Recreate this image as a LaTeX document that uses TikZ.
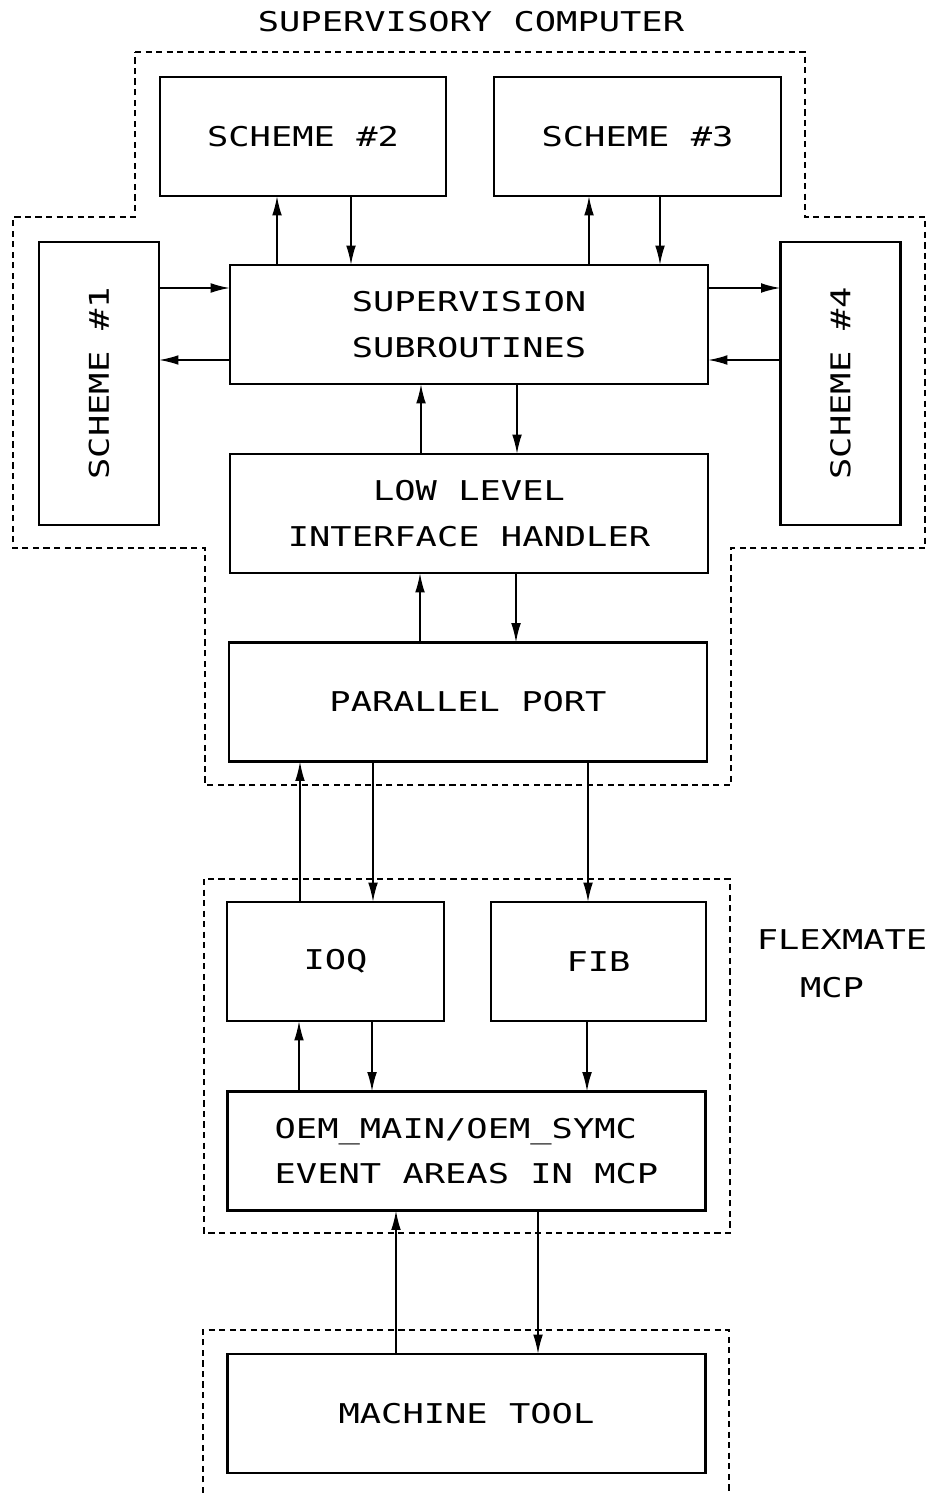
\documentclass[tikz,border=0pt]{standalone}
\usepackage{fontspec}
\newfontfamily\plotfont{DejaVu Sans Mono}[FakeStretch=1.3]
\usetikzlibrary{arrows.meta}
\tikzset{blk/.style={draw, line width=1.2pt, outer sep=0pt, minimum width=9.56cm, minimum height=2.38cm, align=center}}
\tikzset{side/.style={blk, minimum width=2.4cm, minimum height=5.66cm}}
\tikzset{arr/.style={line width=1pt, -{Latex[length=11pt,width=5.5pt]}}}
\tikzset{bound/.style={line width=1.3pt, dash pattern=on 3.5pt off 2.5pt}}

\begin{document}
\begin{tikzpicture}[x={(0.02cm,0)}, y={(0,-0.02cm)}, every node/.style={font=\plotfont\fontsize{15.5}{26}\selectfont}]

\useasboundingbox (0,0) rectangle (933,1493);

\node (title) at (471,22) {SUPERVISORY COMPUTER};

% supervisory computer
\node[blk, minimum width=5.72cm] (s2) at (303,136.5) {SCHEME \#2};
\node[blk, minimum width=5.74cm] (s3) at (637.5,136.5) {SCHEME \#3};
\node[side] (s1) at (99,383.5) {\rotatebox{90}{SCHEME \#1}};
\node[side] (s4) at (840.5,383.5) {\rotatebox{90}{SCHEME \#4}};
\node[blk] (sup) at (469,324.5) {SUPERVISION\\SUBROUTINES};
\node[blk] (low) at (469,513.5) {LOW LEVEL\\INTERFACE HANDLER};
\node[blk] (pp) at (468,702) {PARALLEL PORT};

\draw[bound] (135,52) -- (805,52) -- (805,217) -- (925,217) -- (925,548) -- (731,548)
  -- (731,785) -- (205,785) -- (205,548) -- (13,548) -- (13,217) -- (135,217) -- cycle;

\draw[arr] (sup.north -| 277,0) -- (s2.south -| 277,0);
\draw[arr] (s2.south -| 351,0) -- (sup.north -| 351,0);
\draw[arr] (sup.north -| 589,0) -- (s3.south -| 589,0);
\draw[arr] (s3.south -| 660,0) -- (sup.north -| 660,0);
\draw[arr] (s1.east |- 0,288) -- (sup.west |- 0,288);
\draw[arr] (sup.west |- 0,360) -- (s1.east |- 0,360);
\draw[arr] (sup.east |- 0,288) -- (s4.west |- 0,288);
\draw[arr] (s4.west |- 0,360) -- (sup.east |- 0,360);
\draw[arr] (low.north -| 421,0) -- (sup.south -| 421,0);
\draw[arr] (sup.south -| 517,0) -- (low.north -| 517,0);
\draw[arr] (pp.north -| 420,0) -- (low.south -| 420,0);
\draw[arr] (low.south -| 516,0) -- (pp.north -| 516,0);

% flexmate mcp
\node[blk, minimum width=4.34cm] (ioq) at (335.5,961.5) {IOQ};
\node[blk, minimum width=4.3cm] (fib) at (598.5,961.5) {FIB};
\node[blk, align=left] (oem) at (466.5,1151) {OEM\_MAIN/OEM\_SYMC\\EVENT AREAS IN MCP};
\node (flex) at (842,940) {FLEXMATE};
\node (mcp) at (832,988) {MCP};

\draw[bound] (204,879) rectangle (730,1233);

\draw[arr] (ioq.north -| 300,0) -- (pp.south -| 300,0);
\draw[arr] (pp.south -| 373,0) -- (ioq.north -| 373,0);
\draw[arr] (pp.south -| 588,0) -- (fib.north -| 588,0);
\draw[arr] (oem.north -| 299,0) -- (ioq.south -| 299,0);
\draw[arr] (ioq.south -| 372,0) -- (oem.north -| 372,0);
\draw[arr] (fib.south -| 587,0) -- (oem.north -| 587,0);

% machine tool
\node[blk] (mt) at (466.5,1413.5) {MACHINE TOOL};

\draw[bound] (203,1493) -- (203,1330) -- (729,1330) -- (729,1493);

\draw[arr] (mt.north -| 396,0) -- (oem.south -| 396,0);
\draw[arr] (oem.south -| 538,0) -- (mt.north -| 538,0);

\end{tikzpicture}
\end{document}
